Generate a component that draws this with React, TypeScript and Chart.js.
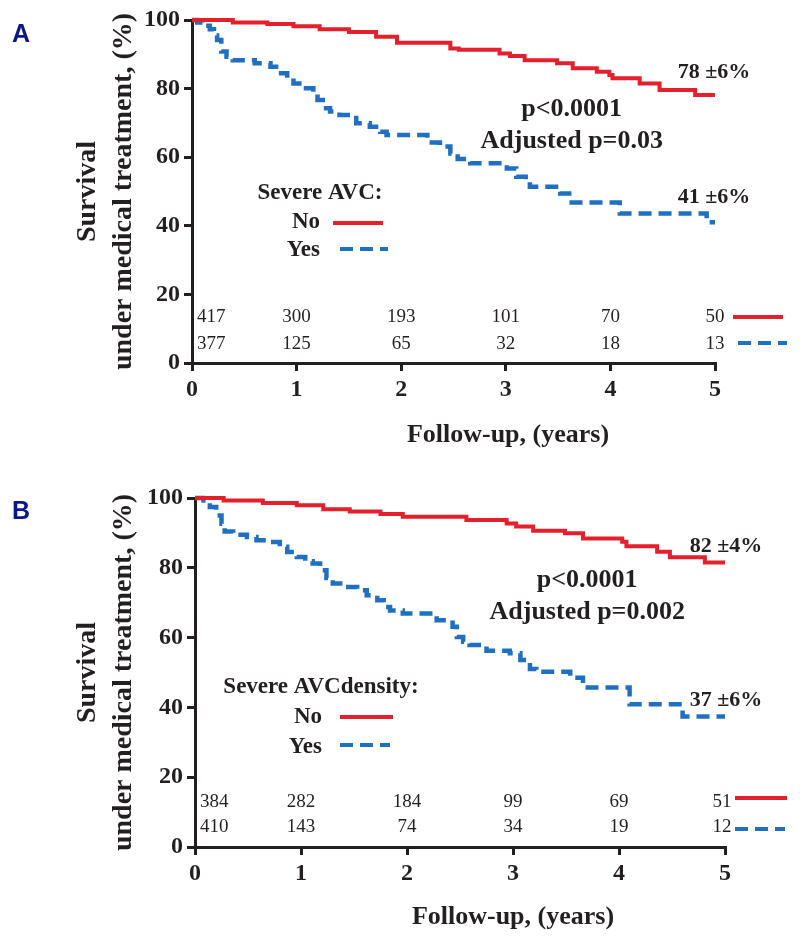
import React, { useEffect, useRef } from 'react';
import { Chart, registerables } from 'chart.js';

Chart.register(...registerables);

// ---------- data ----------
const YEARS = [0, 1, 2, 3, 4, 5];
const Y_TICKS = [0, 20, 40, 60, 80, 100];

// Panel A – Severe AVC
const A_NO_T = [0, 0.39, 0.72, 0.97, 1.22, 1.5, 1.76, 1.96, 2.47, 2.55, 2.94, 3.04, 3.18, 3.49, 3.64, 3.87, 3.99, 4.02, 4.28, 4.47, 4.81, 5.0];
const A_NO_S = [100, 99.3, 98.8, 98.2, 97.3, 96.5, 95.1, 93.4, 91.7, 91.3, 90.2, 89.5, 88.3, 87.4, 85.9, 84.9, 84.0, 83.0, 81.5, 79.6, 78.1, 78.1];
const A_YES_T = [0, 0.05, 0.1, 0.17, 0.21, 0.24, 0.28, 0.33, 0.39, 0.6, 0.75, 0.83, 0.91, 0.97, 1.06, 1.16, 1.2, 1.25, 1.32, 1.41, 1.57, 1.7, 1.8, 1.86, 2.25, 2.37, 2.47, 2.54, 2.66, 3.01, 3.1, 3.19, 3.23, 3.52, 3.63, 4.09, 4.92, 5.0];
const A_YES_S = [100, 99.3, 98.3, 97.3, 95.5, 94.2, 90.8, 89.3, 88.3, 87.4, 86.4, 84.5, 83.0, 81.5, 80.1, 78.6, 76.7, 74.3, 73.3, 72.3, 69.9, 68.9, 67.4, 66.5, 64.3, 63.1, 61.1, 59.5, 58.2, 56.7, 54.3, 52.9, 51.4, 49.4, 46.8, 43.6, 41.0, 41.0];
const A_RISK_NO = [417, 300, 193, 101, 70, 50];
const A_RISK_YES = [377, 125, 65, 32, 18, 13];

// Panel B – Severe AVCdensity
const B_NO_T = [0, 0.27, 0.64, 0.96, 1.21, 1.46, 1.75, 1.96, 2.56, 2.94, 3.03, 3.19, 3.49, 3.66, 4.03, 4.07, 4.36, 4.48, 4.81, 5.0];
const B_NO_S = [100, 99.3, 98.6, 97.9, 96.8, 96.1, 95.4, 94.6, 93.7, 92.7, 91.8, 90.6, 89.9, 88.4, 87.5, 86.2, 84.6, 83.0, 81.5, 81.5];
const B_YES_T = [0, 0.08, 0.14, 0.2, 0.25, 0.28, 0.36, 0.49, 0.58, 0.71, 0.8, 0.87, 0.96, 1.04, 1.11, 1.18, 1.24, 1.3, 1.37, 1.53, 1.62, 1.72, 1.78, 1.84, 1.96, 2.28, 2.43, 2.47, 2.53, 2.59, 2.75, 2.97, 3.07, 3.16, 3.22, 3.54, 3.66, 4.1, 4.6, 5.0];
const B_YES_S = [100, 99.3, 97.4, 95.0, 92.6, 90.4, 89.5, 88.8, 87.9, 87.4, 86.0, 84.5, 83.1, 81.9, 81.2, 79.3, 77.1, 75.5, 74.5, 73.6, 72.1, 70.7, 68.8, 67.8, 66.9, 65.0, 63.1, 60.2, 58.8, 57.9, 56.2, 55.5, 53.6, 51.0, 50.2, 48.5, 45.7, 40.9, 37.4, 37.4];
const B_RISK_NO = [384, 282, 184, 99, 69, 51];
const B_RISK_YES = [410, 143, 74, 34, 19, 12];

// ---------- styles ----------
const RED = '#e3202b';
const BLUE = '#1f70c1';
const TEXT = '#231f20';
const AXIS = '#231f20';
const SERIF = '"Liberation Serif", "Times New Roman", serif';
const DASH = [13, 7];

type Panel = {
  letter: string;
  letterY: number;
  noT: number[]; noS: number[]; yesT: number[]; yesS: number[];
  riskNo: number[]; riskYes: number[];
  padTop: number; padRight: number; yAxisW: number; xAxisH: number;
  legendTitle: string;
  leg: { tx: number; ty: number; noX: number; noY: number; noSeg: [number, number, number]; yesY: number; yesSeg: [number, number, number] };
  pText: [string, string];
  pPos: [number, number, number];
  endNo: [string, number, number];
  endYes: [string, number, number];
  riskRows: [number, number];
  riskLastShift: number;
  tailNo: [number, number, number];
  tailYes: [number, number, number];
  xTitle: [number, number];
  yTitleX: [number, number];
};

const PANELS: Panel[] = [
  {
    letter: 'A', letterY: 35,
    noT: A_NO_T, noS: A_NO_S, yesT: A_YES_T, yesS: A_YES_S,
    riskNo: A_RISK_NO, riskYes: A_RISK_YES,
    padTop: 20, padRight: 85, yAxisW: 192, xAxisH: 107,
    legendTitle: 'Severe AVC:',
    leg: { tx: 128, ty: 173, noX: 128, noY: 202, noSeg: [141, 191, 203], yesY: 230, yesSeg: [148, 196, 229] },
    pText: ['p<0.0001', 'Adjusted p=0.03'],
    pPos: [3.63, 74, 64.7],
    endNo: ['78 ±6%', 4.99, 84.8],
    endYes: ['41 ±6%', 4.99, 48.4],
    riskRows: [46, 19], riskLastShift: 0,
    tailNo: [18, 68, 46], tailYes: [23, 72, 20],
    xTitle: [508, 435], yTitleX: [88, 124],
  },
  {
    letter: 'B', letterY: 42,
    noT: B_NO_T, noS: B_NO_S, yesT: B_YES_T, yesS: B_YES_S,
    riskNo: B_RISK_NO, riskYes: B_RISK_YES,
    padTop: 28, padRight: 75, yAxisW: 195, xAxisH: 93,
    legendTitle: 'Severe AVCdensity:',
    leg: { tx: 126, ty: 189, noX: 127, noY: 219, noSeg: [145, 198, 219], yesY: 249, yesSeg: [145, 195, 247] },
    pText: ['p<0.0001', 'Adjusted p=0.002'],
    pPos: [3.7, 76.5, 67.3],
    endNo: ['82 ±4%', 5.01, 86.2],
    endYes: ['37 ±6%', 5.01, 42.1],
    riskRows: [45, 20], riskLastShift: -3,
    tailNo: [10, 62, 49], tailYes: [10, 60, 18],
    xTitle: [513, 447], yTitleX: [88, 124],
  },
];

function seg(ctx: CanvasRenderingContext2D, x1: number, x2: number, y: number, color: string, dash: number[]) {
  ctx.save();
  ctx.strokeStyle = color;
  ctx.lineWidth = 4;
  ctx.lineCap = 'butt';
  ctx.setLineDash(dash);
  ctx.beginPath();
  ctx.moveTo(x1, y);
  ctx.lineTo(x2, y);
  ctx.stroke();
  ctx.restore();
}

function makeOverlay(p: Panel) {
  return {
    id: 'kmOverlay' + p.letter,
    afterDraw(chart: any) {
      const { ctx, chartArea: ca } = chart;
      const xs = chart.scales.x;
      const ys = chart.scales.y;
      ctx.save();
      // panel letter
      ctx.fillStyle = '#0b168a';
      ctx.font = 'bold 25px "Liberation Sans", Arial, sans-serif';
      ctx.textAlign = 'center';
      ctx.textBaseline = 'middle';
      ctx.fillText(p.letter, 21, p.letterY);

      ctx.fillStyle = TEXT;
      // y title
      ctx.font = `bold 28px ${SERIF}`;
      const cy = (ca.top + ca.bottom) / 2;
      ctx.save();
      ctx.translate(p.yTitleX[0], cy);
      ctx.rotate(-Math.PI / 2);
      ctx.fillText('Survival', 0, 0);
      ctx.restore();
      ctx.save();
      ctx.translate(p.yTitleX[1], cy);
      ctx.rotate(-Math.PI / 2);
      ctx.fillText('under medical treatment, (%)', 0, 0);
      ctx.restore();
      // x title
      ctx.font = `bold 26px ${SERIF}`;
      ctx.fillText('Follow-up, (years)', p.xTitle[0], p.xTitle[1]);

      // p-values
      ctx.font = `bold 26px ${SERIF}`;
      const px = xs.getPixelForValue(p.pPos[0]);
      ctx.fillText(p.pText[0], px, ys.getPixelForValue(p.pPos[1]));
      ctx.fillText(p.pText[1], px, ys.getPixelForValue(p.pPos[2]));

      // end labels
      ctx.font = `bold 22px ${SERIF}`;
      ctx.fillText(p.endNo[0], xs.getPixelForValue(p.endNo[1]), ys.getPixelForValue(p.endNo[2]));
      ctx.fillText(p.endYes[0], xs.getPixelForValue(p.endYes[1]), ys.getPixelForValue(p.endYes[2]));

      // legend
      ctx.font = `bold 23px ${SERIF}`;
      ctx.fillText(p.legendTitle, ca.left + p.leg.tx, ca.top + p.leg.ty);
      ctx.textAlign = 'right';
      ctx.fillText('No', ca.left + p.leg.noX, ca.top + p.leg.noY);
      ctx.fillText('Yes', ca.left + p.leg.noX, ca.top + p.leg.yesY);
      seg(ctx, ca.left + p.leg.noSeg[0], ca.left + p.leg.noSeg[1], ca.top + p.leg.noSeg[2], RED, []);
      seg(ctx, ca.left + p.leg.yesSeg[0], ca.left + p.leg.yesSeg[1], ca.top + p.leg.yesSeg[2], BLUE, DASH);

      // numbers at risk
      ctx.font = `19px ${SERIF}`;
      const rows: [number[], number][] = [[p.riskNo, p.riskRows[0]], [p.riskYes, p.riskRows[1]]];
      rows.forEach(([vals, off]) => {
        const yy = ca.bottom - off;
        vals.forEach((v, i) => {
          let xx = xs.getPixelForValue(YEARS[i]);
          if (i === 0) {
            ctx.textAlign = 'left';
            xx = ca.left + 5;
          } else {
            ctx.textAlign = 'center';
            if (i === vals.length - 1) xx += p.riskLastShift;
          }
          ctx.fillText(String(v), xx, yy);
        });
      });
      const x5 = xs.getPixelForValue(YEARS[YEARS.length - 1]);
      seg(ctx, x5 + p.tailNo[0], x5 + p.tailNo[1], ca.bottom - p.tailNo[2], RED, []);
      seg(ctx, x5 + p.tailYes[0], x5 + p.tailYes[1], ca.bottom - p.tailYes[2], BLUE, DASH);
      ctx.restore();
    },
  };
}

function KMPanel({ p, top }: { p: Panel; top: number }) {
  const ref = useRef<HTMLCanvasElement | null>(null);
  useEffect(() => {
    if (!ref.current) return;
    const pts = (t: number[], s: number[]) => t.map((v, i) => ({ x: v, y: s[i] }));
    const tickFont = { family: SERIF, size: 24, weight: 'bold' as const };
    const chart = new Chart(ref.current, {
      type: 'line',
      data: {
        datasets: [
          { label: 'No', data: pts(p.noT, p.noS), borderColor: RED, borderWidth: 4, stepped: 'before', pointRadius: 0, fill: false, clip: false as any, borderCapStyle: 'butt', borderJoinStyle: 'miter' },
          { label: 'Yes', data: pts(p.yesT, p.yesS), borderColor: BLUE, borderWidth: 4.5, borderDash: DASH, stepped: 'before', pointRadius: 0, fill: false, clip: false as any, borderCapStyle: 'butt', borderJoinStyle: 'miter' },
        ],
      },
      options: {
        responsive: false,
        animation: false,
        devicePixelRatio: 1,
        layout: { padding: { left: 0, top: p.padTop, right: p.padRight, bottom: 0 } },
        plugins: { legend: { display: false }, tooltip: { enabled: false }, title: { display: false } },
        scales: {
          x: {
            type: 'linear', min: 0, max: 5,
            afterFit: (s: any) => { s.height = p.xAxisH; },
            afterBuildTicks: (s: any) => { s.ticks = YEARS.map((v) => ({ value: v })); },
            ticks: { font: tickFont, color: TEXT, padding: 4, maxRotation: 0 },
            grid: { display: true, drawOnChartArea: false, drawTicks: true, tickLength: 8, color: AXIS, lineWidth: 3 },
            border: { display: true, color: AXIS, width: 3 },
          },
          y: {
            type: 'linear', min: 0, max: 100,
            afterFit: (s: any) => { s.width = p.yAxisW; },
            afterBuildTicks: (s: any) => { s.ticks = Y_TICKS.map((v) => ({ value: v })); },
            ticks: { font: tickFont, color: TEXT, padding: 4 },
            grid: { display: true, drawOnChartArea: false, drawTicks: true, tickLength: 8, color: AXIS, lineWidth: 3 },
            border: { display: true, color: AXIS, width: 3 },
          },
        },
      } as any,
      plugins: [makeOverlay(p)],
    });
    return () => chart.destroy();
  }, [p]);
  return (
    <canvas
      ref={ref}
      width={800}
      height={470}
      style={{ position: 'absolute', left: 0, top, width: 800, height: 470, display: 'block' }}
    />
  );
}

export default function App() {
  return (
    <div style={{ position: 'absolute', left: 0, top: 0, width: 800, height: 940, background: '#ffffff', overflow: 'hidden' }}>
      <KMPanel p={PANELS[0]} top={0} />
      <KMPanel p={PANELS[1]} top={470} />
    </div>
  );
}
